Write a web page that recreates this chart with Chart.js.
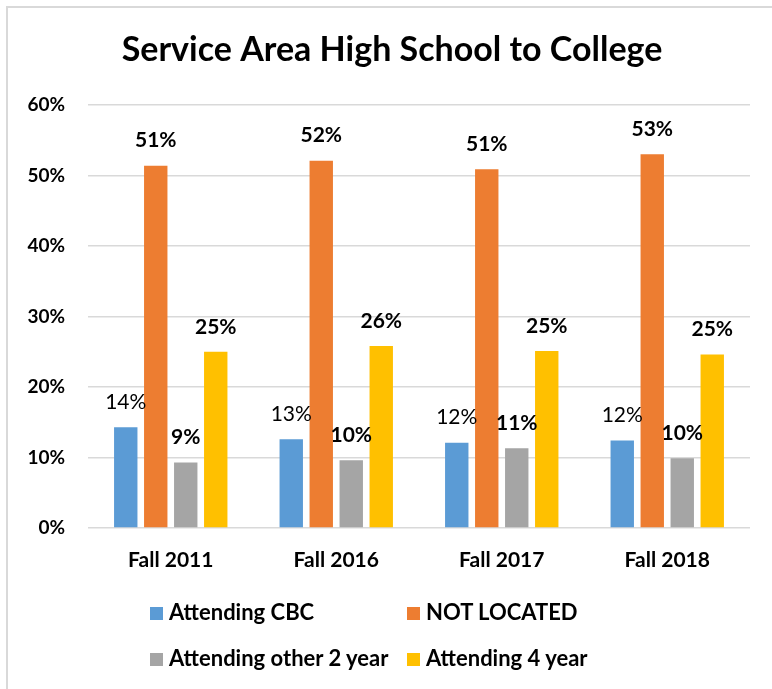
<!DOCTYPE html>
<html lang="en">
<head>
    <meta charset="UTF-8">
    <title>Service Area High School to College</title>
    <script src="https://cdn.jsdelivr.net/npm/chart.js"></script>
    <style>
        html, body {
            margin: 0;
            padding: 0;
            background: #ffffff;
        }
        #wrap {
            position: relative;
            width: 772px;
            height: 689px;
            overflow: hidden;
        }
        /* light frame, only top and left edges show in the picture */
        #frame {
            position: absolute;
            left: 6px;
            top: 6px;
            width: 800px;
            height: 720px;
            border-left: 2px solid #d9d9d9;
            border-top: 2px solid #d9d9d9;
            box-sizing: border-box;
        }
        canvas { position: absolute; left: 0; top: 0; }
        .legend {
            position: absolute;
            left: 150px;
            top: 598px;
            font-family: Lato, sans-serif;
            font-weight: bold;
            font-size: 22px;
            color: #000;
        }
        .legend .item {
            position: absolute;
            white-space: nowrap;
            line-height: 28px;
        }
        .legend .box {
            display: inline-block;
            width: 13px;
            height: 13px;
            margin-right: 6px;
            vertical-align: 0px;
        }
    </style>
</head>
<body>
<div id="wrap">
    <div id="frame"></div>
    <canvas id="chart" width="772" height="689"></canvas>
    <div class="legend" id="legend"></div>
</div>

<script>
    // data
    const categories = ['Fall 2011', 'Fall 2016', 'Fall 2017', 'Fall 2018'];
    const attendingCBC = [0.143, 0.126, 0.121, 0.124];
    const notLocated = [0.514, 0.521, 0.509, 0.530];
    const attendingOther2yr = [0.093, 0.096, 0.113, 0.099];
    const attending4yr = [0.250, 0.258, 0.251, 0.246];
    const yTicks = [0, 0.1, 0.2, 0.3, 0.4, 0.5, 0.6];

    const chartTitle = 'Service Area High School to College';
    const seriesNames = ['Attending CBC', 'NOT LOCATED', 'Attending other 2 year', 'Attending 4 year'];
    const seriesColors = ['#5B9BD5', '#ED7D31', '#A5A5A5', '#FFC000'];
    const seriesData = [attendingCBC, notLocated, attendingOther2yr, attending4yr];

    const fontFamily = 'Lato, sans-serif';

    // value labels above each bar (first series is not bold in the original)
    const barLabels = {
        id: 'barLabels',
        afterDatasetsDraw(chart) {
            const ctx = chart.ctx;
            ctx.save();
            ctx.textAlign = 'center';
            ctx.textBaseline = 'middle';
            ctx.fillStyle = '#000';
            chart.data.datasets.forEach((ds, i) => {
                const meta = chart.getDatasetMeta(i);
                ctx.font = (i === 0 ? 'normal ' : 'bold ') + '21px ' + fontFamily;
                meta.data.forEach((bar, j) => {
                    const txt = Math.round(ds.data[j] * 100) + '%';
                    ctx.fillText(txt, bar.x, bar.y - 25);
                });
            });
            ctx.restore();
        }
    };

    // title centred on the whole frame, not on the plot
    const frameTitle = {
        id: 'frameTitle',
        afterDraw(chart) {
            const ctx = chart.ctx;
            ctx.save();
            ctx.textAlign = 'center';
            ctx.textBaseline = 'middle';
            ctx.fillStyle = '#000';
            ctx.font = 'bold 34px ' + fontFamily;
            ctx.fillText(chartTitle, 392, 50);
            ctx.restore();
        }
    };

    const ctx = document.getElementById('chart').getContext('2d');
    const chart = new Chart(ctx, {
        type: 'bar',
        data: {
            labels: categories,
            datasets: seriesData.map((d, i) => ({
                label: seriesNames[i],
                data: d,
                backgroundColor: seriesColors[i],
                categoryPercentage: 0.725,
                barPercentage: 0.78
            }))
        },
        options: {
            responsive: false,
            animation: false,
            layout: {
                padding: { top: 105, left: 0, right: 22, bottom: 106 }
            },
            plugins: {
                legend: { display: false },
                tooltip: { enabled: false },
                title: { display: false }
            },
            scales: {
                x: {
                    grid: { display: false },
                    border: { display: false },
                    afterFit(scale) { scale.height = 55; },
                    ticks: {
                        color: '#000',
                        padding: 12,
                        font: { family: fontFamily, size: 21, weight: 'bold' }
                    }
                },
                y: {
                    min: 0,
                    max: 0.6,
                    afterBuildTicks(scale) {
                        scale.ticks = yTicks.map(v => ({ value: v }));
                    },
                    afterFit(scale) { scale.width = 88; },
                    grid: { color: '#d9d9d9', lineWidth: 1.5, drawTicks: false },
                    border: { display: false },
                    ticks: {
                        color: '#000',
                        padding: 23,
                        font: { family: fontFamily, size: 19, weight: 'bold' },
                        callback: v => Math.round(v * 100) + '%'
                    }
                }
            }
        },
        plugins: [barLabels, frameTitle]
    });

    // legend laid out in two columns like the original
    const legend = document.getElementById('legend');
    const legendPos = [[0, 0], [257, 0], [0, 46], [257, 46]];
    seriesNames.forEach((name, i) => {
        const item = document.createElement('div');
        item.className = 'item';
        item.style.left = legendPos[i][0] + 'px';
        item.style.top = legendPos[i][1] + 'px';
        item.innerHTML = '<span class="box" style="background:' + seriesColors[i] + '"></span>' + name;
        legend.appendChild(item);
    });
</script>
</body>
</html>
